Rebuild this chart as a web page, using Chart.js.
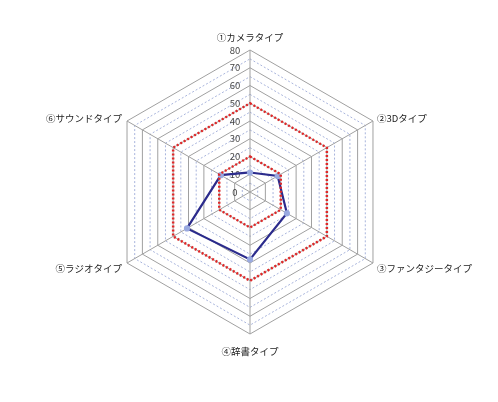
<!DOCTYPE html>
<html>
<head>
<meta charset="utf-8">
<script src="https://cdn.jsdelivr.net/npm/chart.js@4"></script>
<style>
  html, body { margin: 0; padding: 0; background: #fff; }
  #wrap { width: 498px; height: 402px; }
</style>
</head>
<body>
<div id="wrap"><canvas id="radarChart"></canvas></div>
<script>
const categories = ['①カメラタイプ', '②3Dタイプ', '③ファンタジータイプ', '④辞書タイプ', '⑤ラジオタイプ', '⑥サウンドタイプ'];
const scores = [11, 18, 24, 38, 41, 19];
const upperLine = [50, 50, 50, 50, 50, 50];
const lowerLine = [20, 20, 20, 20, 20, 20];
const tickLabels = ['0', '10', '20', '30', '40', '50', '60', '70', '80'];

const FONT = '"Noto Sans CJK JP", "DejaVu Sans", sans-serif';

// tick labels left of the vertical axis + category labels placed like the original
const labelPlugin = {
  id: 'radarLabels',
  beforeDatasetsDraw(chart) {
    const r = chart.scales.r;
    const ctx = chart.ctx;
    ctx.save();
    ctx.font = '9.5px ' + FONT;
    ctx.fillStyle = '#444';
    ctx.textAlign = 'center';
    ctx.textBaseline = 'middle';
    tickLabels.forEach(t => {
      const d = r.getDistanceFromCenterForValue(Number(t));
      ctx.fillText(t, r.xCenter - 15, r.yCenter - d);
    });

    ctx.fillStyle = '#222';
    const outer = r.getDistanceFromCenterForValue(r.max);
    categories.forEach((name, i) => {
      const p = r.getPointPosition(i, outer);
      let x = p.x, y = p.y;
      if (i === 0) { ctx.textAlign = 'center'; y -= 13; }
      else if (i === 3) { ctx.textAlign = 'center'; y += 17; }
      else if (i === 1 || i === 2) { ctx.textAlign = 'left'; x += 4; y += (i === 1 ? -3 : 5); }
      else { ctx.textAlign = 'right'; x -= 5; y += (i === 5 ? -3 : 5); }
      ctx.fillText(name, x, y);
    });
    ctx.restore();
  }
};

const redLine = {
  borderColor: '#e02828',
  borderWidth: 2.5,
  borderDash: [2, 2],
  pointRadius: 0,
  fill: false
};

new Chart(document.getElementById('radarChart'), {
  type: 'radar',
  data: {
    labels: categories,
    datasets: [
      Object.assign({ label: 'upper', data: upperLine }, redLine),
      Object.assign({ label: 'lower', data: lowerLine }, redLine),
      {
        label: 'score',
        data: scores,
        borderColor: '#2b2b8c',
        borderWidth: 2.2,
        pointRadius: 2,
        pointBackgroundColor: '#9aaae0',
        pointBorderColor: '#9aaae0',
        fill: false
      }
    ]
  },
  options: {
    responsive: true, maintainAspectRatio: false,
    animation: false,
    layout: { padding: { top: 50, bottom: 68, left: 2, right: 0 } },
    plugins: {
      legend: { display: false },
      tooltip: { enabled: false }
    },
    elements: { line: { tension: 0 } },
    scales: {
      r: {
        min: 0, max: 80,
        ticks: { stepSize: 5, display: false },
        grid: {
          color: c => (c.tick && c.tick.value % 10 === 0) ? '#a0a0a0' : '#a8b4dc',
          lineWidth: 1
        },
        border: {
          dash: c => (c.tick && c.tick.value % 10 === 0) ? [] : [2, 2]
        },
        angleLines: { color: '#a0a0a0', lineWidth: 1 },
        pointLabels: { display: false }
      }
    }
  },
  plugins: [labelPlugin]
});
</script>
</body>
</html>
